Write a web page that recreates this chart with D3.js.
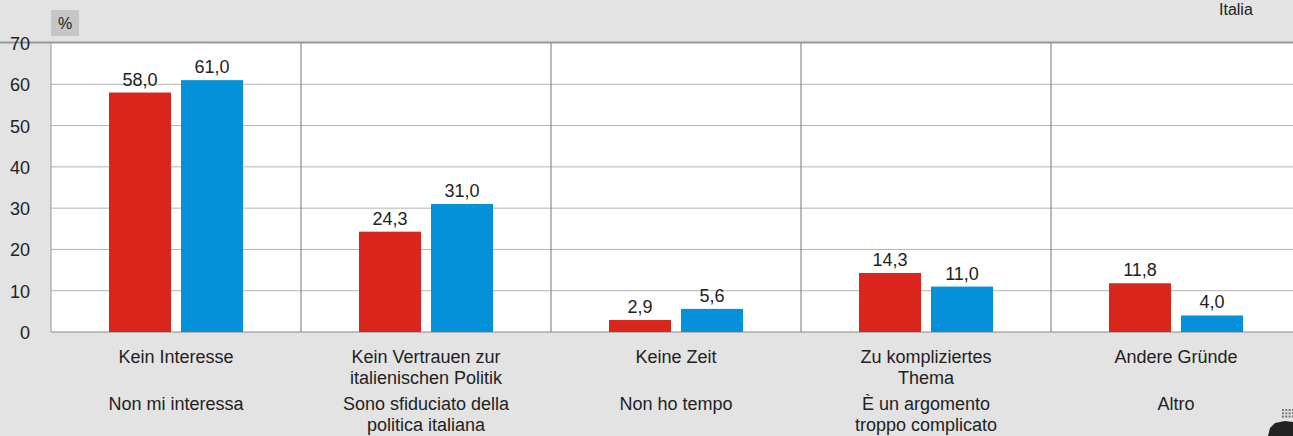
<!DOCTYPE html>
<html>
<head>
<meta charset="utf-8">
<script src="https://cdn.jsdelivr.net/npm/d3@7"></script>
<style>
  body { margin: 0; background: #e3e3e3; overflow: hidden; }
  text { font-family: "Liberation Sans", Arial, sans-serif; fill: #222; }
</style>
</head>
<body>
<div id="main"></div>
<script>
const categoriesDe = [["Kein Interesse"], ["Kein Vertrauen zur", "italienischen Politik"], ["Keine Zeit"], ["Zu kompliziertes", "Thema"], ["Andere Gründe"]];
const categoriesIt = [["Non mi interessa"], ["Sono sfiduciato della", "politica italiana"], ["Non ho tempo"], ["È un argomento", "troppo complicato"], ["Altro"]];
const suedtirol = [58.0, 24.3, 2.9, 14.3, 11.8];
const italia = [61.0, 31.0, 5.6, 11.0, 4.0];
const yTicks = [0, 10, 20, 30, 40, 50, 60, 70];

const W = 1293, H = 436;
const plotLeft = 51, plotRight = 1301, plotTop = 43, plotBottom = 332;

const svg = d3.select("#main").append("svg").attr("width", W).attr("height", H);

const x = d3.scaleBand().domain(d3.range(5)).range([plotLeft, plotRight]);
const y = d3.scaleLinear().domain([0, 70]).range([plotBottom, plotTop]);

// plot background
svg.append("rect").attr("x", plotLeft).attr("y", plotTop).attr("width", plotRight - plotLeft).attr("height", plotBottom - plotTop).attr("fill", "#fff");
svg.append("line").attr("x1", 0).attr("x2", W).attr("y1", plotTop - 0.5).attr("y2", plotTop - 0.5).attr("stroke", "#999").attr("stroke-width", 2);

// grid
svg.selectAll(".grid").data(yTicks.filter(d => d > 0 && d < 70)).enter().append("line")
  .attr("x1", plotLeft).attr("x2", plotRight).attr("y1", d => y(d)).attr("y2", d => y(d))
  .attr("stroke", "#b4b4b4").attr("stroke-width", 1);

// group dividers
svg.selectAll(".div").data(d3.range(1, 5)).enter().append("line")
  .attr("x1", d => x(d)).attr("x2", d => x(d)).attr("y1", plotTop).attr("y2", plotBottom)
  .attr("stroke", "#777").attr("stroke-width", 1);
svg.append("line").attr("x1", plotLeft).attr("x2", plotLeft).attr("y1", plotTop).attr("y2", plotBottom).attr("stroke", "#999");
svg.append("line").attr("x1", plotLeft).attr("x2", plotRight).attr("y1", plotBottom).attr("y2", plotBottom).attr("stroke", "#888");

// y tick labels
svg.selectAll(".yt").data(yTicks).enter().append("text")
  .attr("x", 30).attr("y", d => y(d) + 7).attr("text-anchor", "end")
  .style("font-size", "18px").text(d => d);

// % box
svg.append("rect").attr("x", 51).attr("y", 10).attr("width", 28).attr("height", 26).attr("fill", "#c6c6c6");
svg.append("text").attr("x", 65).attr("y", 29).attr("text-anchor", "middle").style("font-size", "16px").text("%");

// legend (mostly cut off at top)
svg.append("text").attr("x", 1219).attr("y", 15).style("font-size", "16px").text("Italia");

const barW = 62;
const series = [{ vals: suedtirol, off: 58, color: "#da251d" }, { vals: italia, off: 130, color: "#0591d9" }];

series.forEach(s => {
  svg.selectAll(null).data(s.vals).enter().append("rect")
    .attr("x", (d, i) => x(i) + s.off).attr("y", d => y(d))
    .attr("width", barW).attr("height", d => plotBottom - y(d))
    .attr("fill", s.color);
  svg.selectAll(null).data(s.vals).enter().append("text")
    .attr("x", (d, i) => x(i) + s.off + barW / 2).attr("y", d => y(d) - 7)
    .attr("text-anchor", "middle").style("font-size", "18px")
    .text(d => d.toFixed(1).replace(".", ","));
});

// category labels
function labels(data, y0) {
  data.forEach((lines, i) => {
    const t = svg.append("text").attr("x", x(i) + 125).attr("y", y0)
      .attr("text-anchor", "middle").style("font-size", "18px");
    lines.forEach((l, j) => t.append("tspan").attr("x", x(i) + 125).attr("dy", j ? 20.5 : 0).text(l));
  });
}
labels(categoriesDe, 363);
labels(categoriesIt, 410);

// corner logo fragment
svg.append("path").attr("d", "M1268,436 L1270,428 L1275,423 L1285,421 L1293,422 L1293,436 Z").attr("fill", "#222");
const dots = [];
for (let r = 0; r < 3; r++) for (let c = 0; c < 4; c++) dots.push([1282 + c * 3.3, 409 + r * 3.3]);
svg.selectAll(".dot").data(dots).enter().append("rect")
  .attr("x", d => d[0]).attr("y", d => d[1]).attr("width", 2).attr("height", 2).attr("fill", "#777");
</script>
</body>
</html>
